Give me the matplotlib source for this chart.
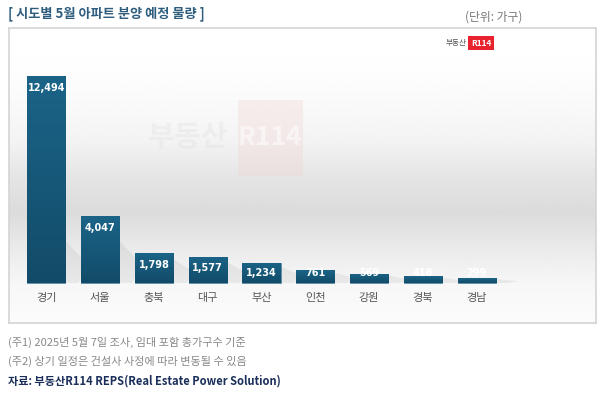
import numpy as np
import matplotlib
matplotlib.use('Agg')
import matplotlib.pyplot as plt
from matplotlib.colors import LinearSegmentedColormap

plt.rcParams['font.family'] = ['Noto Sans CJK KR', 'DejaVu Sans']

# Data
regions = ['경기', '서울', '충북', '대구', '부산', '인천', '강원', '경북', '경남']
units = [12494, 4047, 1798, 1577, 1234, 761, 569, 418, 299]

fig = plt.figure(figsize=(6, 3.93), dpi=100)
W, H = 600, 393

# panel (pixels) -> figure fraction
px0, px1, py0, py1 = 9, 596, 28, 323
ax = fig.add_axes([px0 / W, 1 - py1 / H, (px1 - px0) / W, (py1 - py0) / H])

# pixel mapping for bars
x_first, step = 46.3, 53.8
base_px, scale = 283, 0.01657
ax.set_xlim((px0 - x_first) / step, (px1 - x_first) / step)
ax.set_ylim(-(py1 - base_px) / scale, (base_px - py0) / scale)

# background gradient
grad = np.interp(np.linspace(0, 1, 200), np.linspace(0, 1, 9),
                 [1.0, 0.995, 0.98, 0.955, 0.90, 0.86, 0.92, 0.97, 0.985])
img = np.repeat(grad[:, None], 2, axis=1)
ax.imshow(img, cmap='gray', vmin=0, vmax=1, aspect='auto',
          extent=[*ax.get_xlim(), ax.get_ylim()[0], ax.get_ylim()[1]],
          origin='upper', zorder=0)

for s in ax.spines.values():
    s.set_color('#d4d4d4')
    s.set_linewidth(1.2)
ax.set_xticks([])
ax.set_yticks([])

# watermark
ax.text(0.305, 0.63, '부동산', transform=ax.transAxes, fontsize=21, fontweight='bold',
        color='#dddddd', alpha=0.3, ha='center', va='center', zorder=1)
ax.add_patch(plt.Rectangle((0.39, 0.50), 0.11, 0.255, transform=ax.transAxes,
                           facecolor='#f0d0d0', alpha=0.3, edgecolor='none', zorder=1))
ax.text(0.445, 0.63, 'R114', transform=ax.transAxes, fontsize=19, fontweight='bold',
        color='white', alpha=0.55, ha='center', va='center', zorder=1)

# small logo
fig.text(456 / W, 1 - 43 / H, '부동산', fontsize=5.5, color='#555555', ha='center', va='center')
fig.text(481 / W, 1 - 43 / H, 'R114', fontsize=6, color='white', fontweight='bold', ha='center', va='center',
         bbox=dict(boxstyle='square,pad=0.3', facecolor='#e8232e', edgecolor='none'))

# bars with vertical gradient
bar_cmap = LinearSegmentedColormap.from_list('b', ['#124b69', '#1b6488'])
xs = np.arange(len(regions))
bars = ax.bar(xs, units, width=0.71, color='#175a7c', edgecolor='#5f8fa8', linewidth=0.6, zorder=3)
for b in bars:
    x0, w, h = b.get_x(), b.get_width(), b.get_height()
    # soft shadow
    top = min(h, 3200) * 0.8
    ax.fill([x0 + w, x0 + w + 0.4, x0 + w + 0.25, x0 + w],
            [top, top * 0.45, 0, 0], color='#8a8a8a', alpha=0.13, lw=0, zorder=2)
    g = ax.imshow(np.linspace(0, 1, 100)[:, None], cmap=bar_cmap, aspect='auto',
                  extent=[x0, x0 + w, 0, h], origin='lower', zorder=3.5)
    g.set_clip_path(b)

for x, v in zip(xs, units):
    y = max(v - 700, 600)
    ax.text(x, y, f'{v:,}', color='white', fontsize=7, fontweight='bold',
            ha='center', va='center', zorder=5, family='DejaVu Sans')
    ax.text(x, -(298 - base_px) / scale, regions[x], color='#555555', fontsize=8,
            ha='center', va='center', zorder=5)

# titles and notes
fig.text(8 / W, 1 - 14 / H, '[ 시도별 5월 아파트 분양 예정 물량 ]', fontsize=9.5, fontweight='bold',
         color='#2e5d7e', ha='left', va='center')
fig.text(494 / W, 1 - 17 / H, '(단위: 가구)', fontsize=8.5, color='#777777', ha='center', va='center')
fig.text(8 / W, 1 - 342 / H, '(주1) 2025년 5월 7일 조사, 임대 포함 총가구수 기준', fontsize=8,
         color='#888888', ha='left', va='center')
fig.text(8 / W, 1 - 361 / H, '(주2) 상기 일정은 건설사 사정에 따라 변동될 수 있음', fontsize=8,
         color='#888888', ha='left', va='center')
fig.text(8 / W, 1 - 381 / H, '자료: 부동산R114 REPS(Real Estate Power Solution)', fontsize=8,
         fontweight='bold', color='#1a2f5a', ha='left', va='center')

fig.savefig('out.png', dpi=100)
